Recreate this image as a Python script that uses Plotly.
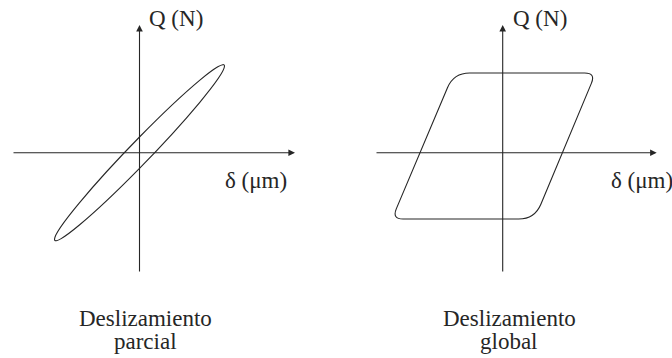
import numpy as np
import plotly.graph_objects as go

# ---- values (diagram units, origin at the axes crossing, Q positive up) ----
# partial slip: thin inclined ellipse, given by its tip (max displacement)
# and the point where it cuts the force axis
partial_tip = [85.0, 86.6]
partial_q_axis_cut = [0.0, -15.7]

# gross slip: parallelogram loop corners (TL, TR, BR, BL) and corner rounding
gross_delta = [-49.0, 93.0, 32.0, -110.7]
gross_q = [79.7, 79.7, -66.3, -66.3]
gross_corner_r = [16.0, 11.0, 16.0, 11.0]

# axis arrows (tail, tip) for each panel
left_h_axis = [-127.5, 155.5]
left_v_axis = [-120.3, 127.7]
right_h_axis = [-127.7, 154.0]
right_v_axis = [-120.3, 127.7]

captions = [["Deslizamiento", "parcial"], ["Deslizamiento", "global"]]
q_label = "Q (N)"
d_label = "δ (μm)"

INK = "#262626"
FONT = "Liberation Serif"
FS = 23


def ellipse_path(u, v):
    """Closed path for the ellipse with conjugate half-diameters u and v."""
    u = np.asarray(u)
    v = np.asarray(v)
    k = 0.5522847498
    pts = [u, v, -u, -v]
    d = "M {:.2f},{:.2f}".format(*u)
    for i in range(4):
        p0 = pts[i]
        p3 = pts[(i + 1) % 4]
        c1 = p0 + k * p3
        c2 = p3 + k * p0
        d += " C {:.2f},{:.2f} {:.2f},{:.2f} {:.2f},{:.2f}".format(*c1, *c2, *p3)
    return d + " Z"


def rounded_loop_path(xs, ys, radii):
    v = [np.array([x, y]) for x, y in zip(xs, ys)]
    n = len(v)
    a, b = [], []
    for i in range(n):
        prev_pt, next_pt = v[i - 1], v[(i + 1) % n]
        dp = (prev_pt - v[i]) / np.linalg.norm(prev_pt - v[i])
        dn = (next_pt - v[i]) / np.linalg.norm(next_pt - v[i])
        a.append(v[i] + radii[i] * dp)
        b.append(v[i] + radii[i] * dn)
    d = "M {:.2f},{:.2f}".format(*b[0])
    for j in list(range(1, n)) + [0]:
        d += " L {:.2f},{:.2f} Q {:.2f},{:.2f} {:.2f},{:.2f}".format(*a[j], *v[j], *b[j])
    return d + " Z"


fig = go.Figure()
# anchor traces so both subplots exist
fig.add_trace(go.Scatter(x=[0], y=[0], mode="markers", marker=dict(opacity=0),
                         xaxis="x", yaxis="y", hoverinfo="skip", showlegend=False))
fig.add_trace(go.Scatter(x=[0], y=[0], mode="markers", marker=dict(opacity=0),
                         xaxis="x2", yaxis="y", hoverinfo="skip", showlegend=False))

fig.add_shape(type="path", path=ellipse_path(partial_tip, partial_q_axis_cut),
              xref="x", yref="y", line=dict(color=INK, width=1.1))
fig.add_shape(type="path", path=rounded_loop_path(gross_delta, gross_q, gross_corner_r),
              xref="x2", yref="y", line=dict(color=INK, width=1.1))

ann = []
for xr, h, vv in (("x", left_h_axis, left_v_axis), ("x2", right_h_axis, right_v_axis)):
    ann.append(dict(x=h[1], y=0, ax=h[0], ay=0, xref=xr, yref="y", axref=xr, ayref="y",
                    text="", showarrow=True, arrowhead=2, arrowsize=1.2, arrowwidth=1.1,
                    arrowcolor=INK, standoff=0, startstandoff=0))
    ann.append(dict(x=0, y=vv[1], ax=0, ay=vv[0], xref=xr, yref="y", axref=xr, ayref="y",
                    text="", showarrow=True, arrowhead=2, arrowsize=1.2, arrowwidth=1.1,
                    arrowcolor=INK, standoff=0, startstandoff=0))

font = dict(family=FONT, size=FS, color=INK)
# axis names
ann += [
    dict(x=7.5, y=134.7, xref="x", yref="y", text=q_label, showarrow=False,
         xanchor="left", yanchor="middle", font=font),
    dict(x=8.0, y=134.7, xref="x2", yref="y", text=q_label, showarrow=False,
         xanchor="left", yanchor="middle", font=font),
    dict(x=83.5, y=-27.3, xref="x", yref="y", text=d_label, showarrow=False,
         xanchor="left", yanchor="middle", font=font),
    dict(x=106.3, y=-27.3, xref="x2", yref="y", text=d_label, showarrow=False,
         xanchor="left", yanchor="middle", font=font),
]
# captions under each panel
for xr, cx, lines in (("x", 5.5, captions[0]), ("x2", 6.3, captions[1])):
    ann.append(dict(x=cx, y=-166.0, xref=xr, yref="y", text=lines[0], showarrow=False,
                    xanchor="center", yanchor="middle", font=font))
    ann.append(dict(x=cx, y=-189.0, xref=xr, yref="y", text=lines[1], showarrow=False,
                    xanchor="center", yanchor="middle", font=font))

fig.update_layout(
    width=672, height=358,
    margin=dict(l=0, r=0, t=0, b=0),
    paper_bgcolor="white", plot_bgcolor="white",
    showlegend=False,
    xaxis=dict(domain=[0, 320 / 672], range=[-139.5, 180.5], visible=False, fixedrange=True),
    xaxis2=dict(domain=[340 / 672, 1], range=[-162.7, 169.3], visible=False,
                anchor="y", fixedrange=True),
    yaxis=dict(domain=[0, 1], range=[-205.3, 152.7], visible=False, fixedrange=True),
    annotations=ann,
)

fig.write_html("out.html")
